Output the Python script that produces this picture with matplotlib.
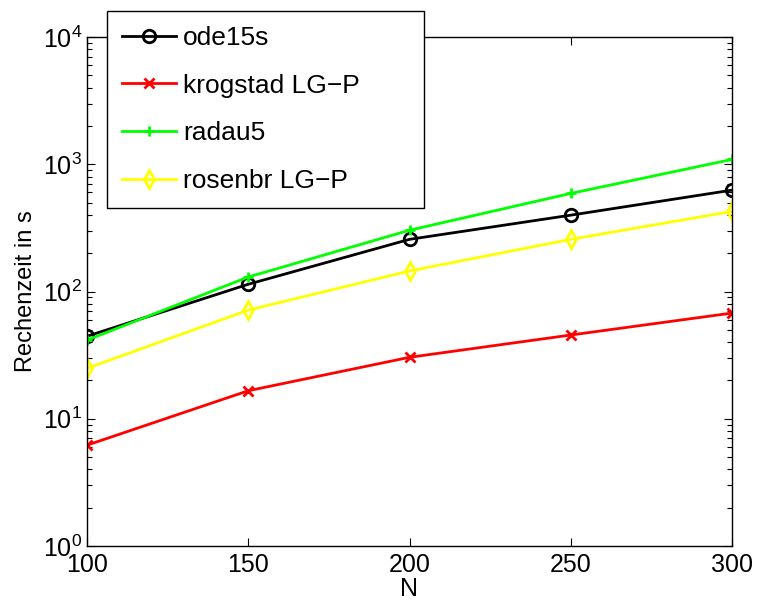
"""Rechenzeit vs N (log scale), MATLAB-style line chart."""

import matplotlib

matplotlib.use("Agg")
import matplotlib.pyplot as plt
from matplotlib.ticker import LogLocator, NullFormatter

plt.rcParams["font.family"] = ["Liberation Sans", "DejaVu Sans"]
plt.rcParams["mathtext.fontset"] = "custom"
plt.rcParams["mathtext.rm"] = "Liberation Sans"
plt.rcParams["mathtext.it"] = "Liberation Sans"

N = [100, 150, 200, 250, 300]
ode15s = [44.5, 114, 257, 398, 626]
krogstad = [6.2, 16.6, 30.4, 45.5, 67.7]
radau5 = [41.5, 130, 303, 590, 1091]
rosenbr = [24.9, 71.4, 145, 257, 426]

SERIES = [
    ("ode15s", ode15s, "black", "o"),
    ("krogstad LG\u2212P", krogstad, "#ff0000", "x"),
    ("radau5", radau5, "#00ff00", "+"),
    ("rosenbr LG\u2212P", rosenbr, "#ffff00", "d"),
]

fig = plt.figure(figsize=(7.6, 6.05), dpi=100)
ax = fig.add_axes([87 / 760, 1 - 546 / 605, (732 - 87) / 760, (546 - 37) / 605])

for label, vals, color, marker in SERIES:
    ax.plot(N, vals, color=color, linewidth=2.0, marker=marker,
            markersize=9 if marker in "od" else 6.5, markerfacecolor="none",
            markeredgecolor=color, markeredgewidth=2.0, label=label)

ax.set_yscale("log")
ax.set_xlim(100, 300)
ax.set_ylim(1, 1e4)
ax.set_xticks([100, 150, 200, 250, 300])
ax.yaxis.set_major_locator(LogLocator(base=10, numticks=10))
ax.yaxis.set_minor_locator(LogLocator(base=10, subs=range(2, 10), numticks=50))
ax.yaxis.set_minor_formatter(NullFormatter())

ax.tick_params(which="both", direction="in", top=True, right=True, labelsize=18)
ax.tick_params(which="major", length=6, width=0.8)
ax.tick_params(which="minor", length=3.5, width=0.8)
ax.tick_params(axis="x", pad=5)
for s in ax.spines.values():
    s.set_linewidth(1.0)

ax.set_xlabel("N", fontsize=18, labelpad=0)
ax.set_ylabel("Rechenzeit in s", fontsize=17, labelpad=4)

x0, x1 = 107 / 760, 424 / 760
y1 = 1 - 11 / 605
leg = fig.legend(loc="upper left", bbox_to_anchor=(x0, y1 - 0.5, x1 - x0, 0.5),
                 mode="expand", fontsize=19, frameon=True, fancybox=False,
                 framealpha=1, edgecolor="black", handlelength=2.05,
                 handletextpad=0.27, labelspacing=0.9, borderpad=0.56,
                 borderaxespad=0)
leg.get_frame().set_linewidth(1.0)

fig.savefig("out.png", dpi=100)
